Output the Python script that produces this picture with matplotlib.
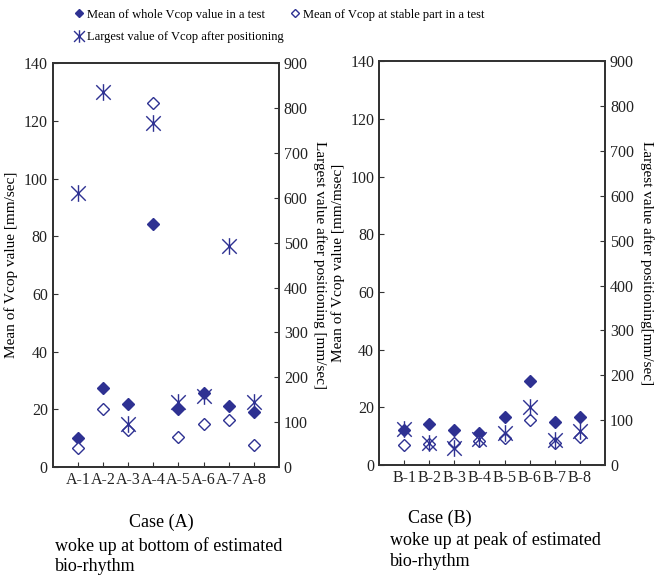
import matplotlib
matplotlib.use('Agg')
import matplotlib.pyplot as plt
from matplotlib.path import Path

plt.rcParams['font.family'] = ['Liberation Serif', 'DejaVu Serif']

cases_a = ["A-1", "A-2", "A-3", "A-4", "A-5", "A-6", "A-7", "A-8"]
whole_a = [10.0, 27.5, 22.0, 84.2, 20.0, 25.8, 21.3, 19.2]
stable_a = [6.5, 20.0, 13.0, 126.3, 10.3, 14.8, 16.2, 7.5]
largest_a = [611, 836, 96, 766, 145, 158, 493, 146]

cases_b = ["B-1", "B-2", "B-3", "B-4", "B-5", "B-6", "B-7", "B-8"]
whole_b = [12.2, 14.1, 12.0, 11.0, 16.5, 29.0, 14.8, 16.5]
stable_b = [6.9, 7.4, 7.8, 8.3, 9.5, 15.5, 7.8, 9.7]
largest_b = [80, 50, 38, 57, 72, 129, 56, 75]

blue = '#2E3192'
# X with a vertical bar through it
star = Path([(-1, -1), (1, 1), (-1, 1), (1, -1), (0, -1.15), (0, 1.15)],
            [Path.MOVETO, Path.LINETO, Path.MOVETO, Path.LINETO, Path.MOVETO, Path.LINETO])

fig = plt.figure(figsize=(6.65, 5.75), dpi=100)


def panel(rect, cases, whole, stable, largest, left_label, right_label):
    ax = fig.add_axes(rect)
    x = list(range(1, len(cases) + 1))
    h1, = ax.plot(x, whole, linestyle='none', marker='D', ms=6, color=blue,
                  label='Mean of whole Vcop value in a test')
    h2, = ax.plot(x, stable, linestyle='none', marker='D', ms=6, mfc='white',
                  mec=blue, mew=1.0, label='Mean of Vcop at stable part in a test')
    ax.set_ylim(0, 140)
    ax.set_yticks(range(0, 141, 20))
    ax.set_xlim(0, 9)
    ax.set_xticks(x)
    ax.set_xticklabels(cases, fontsize=11.5)
    ax.set_ylabel(left_label, fontsize=11)
    ax2 = ax.twinx()
    h3, = ax2.plot(x, largest, linestyle='none', marker=star, ms=12, mfc='none',
                   mec=blue, mew=1.0, label='Largest value of Vcop after positioning')
    ax2.set_ylim(0, 900)
    ax2.set_yticks(range(0, 901, 100))
    ax2.set_ylabel(right_label, fontsize=11, rotation=270, labelpad=14)
    for a in (ax, ax2):
        a.tick_params(direction='in', labelsize=11.5, colors='#333333', labelcolor='#222222')
        for s in a.spines.values():
            s.set_color('#333333')
            s.set_linewidth(1.3)
    return h1, h2, h3


handles = panel([0.0792, 0.1878, 0.3403, 0.7021], cases_a, whole_a, stable_a, largest_a,
                'Mean of Vcop value [mm/sec]', 'Largest value after positioning [mm/sec]')
panel([0.570, 0.1913, 0.3398, 0.7021], cases_b, whole_b, stable_b, largest_b,
      'Mean of Vcop value [mm/msec]', 'Largest value after positioning[mm/sec]')

h1, h2, h3 = handles
fig.legend([h1, h3, h2], [h1.get_label(), h3.get_label(), h2.get_label()],
           loc='upper left', bbox_to_anchor=(0.100, 1.0), ncol=2, frameon=False,
           fontsize=9, handlelength=0.6, handletextpad=0.35, columnspacing=0.6,
           labelspacing=0.85, borderaxespad=0.3, markerscale=0.75)

fig.text(0.243, 0.092, 'Case (A)', fontsize=13, ha='center', va='center')
fig.text(0.083, 0.050, 'woke up at bottom of estimated', fontsize=13, va='center')
fig.text(0.083, 0.014, 'bio-rhythm', fontsize=13, va='center')
fig.text(0.662, 0.099, 'Case (B)', fontsize=13, ha='center', va='center')
fig.text(0.586, 0.061, 'woke up at peak of estimated', fontsize=13, va='center')
fig.text(0.586, 0.023, 'bio-rhythm', fontsize=13, va='center')

fig.savefig('out.png', dpi=100)
